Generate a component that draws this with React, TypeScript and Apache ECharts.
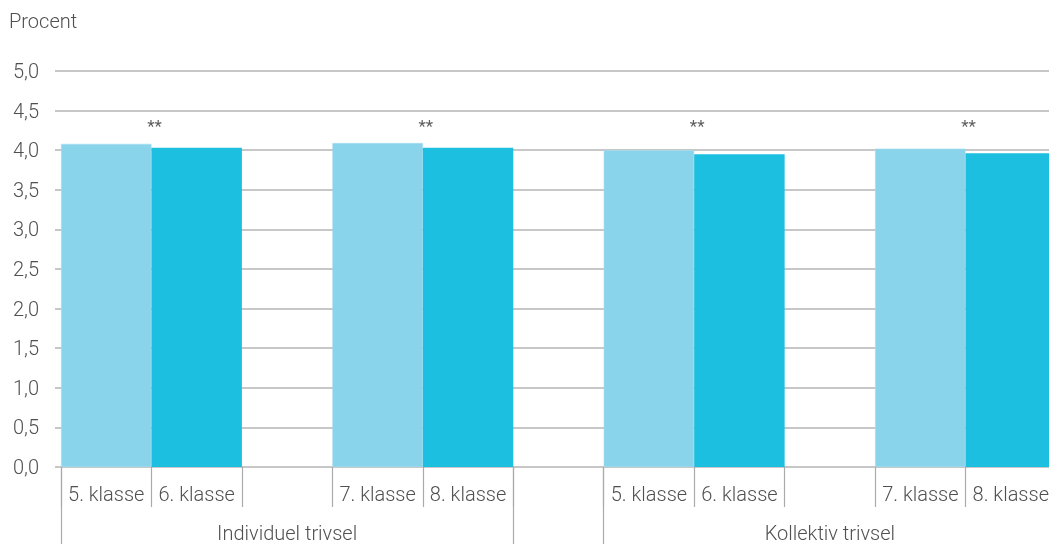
import React, { useEffect, useRef } from "react";
import * as echarts from "echarts";

const slotLabels = [
  "5. klasse", "6. klasse", "",
  "7. klasse", "8. klasse", "",
  "5. klasse", "6. klasse", "",
  "7. klasse", "8. klasse",
];
const groupLabels = ["", "", "Individuel trivsel", "", "", "", "", "", "Kollektiv trivsel", "", ""];
const groupBoundaryTicks = [0, 5, 6];
const lightValues = [4.08, 4.09, 4.0, 4.02];
const darkValues = [4.03, 4.03, 3.95, 3.96];
const sigMarks = ["**", "**", "**", "**"];
const sigMarkLevel = 4.3;
const yTicks = { min: 0, max: 5, interval: 0.5 };

const FONT = "Roboto";
const TEXT = "#505050";
const GRID = "#b4b4b4";

export default function App() {
  const ref = useRef<HTMLDivElement>(null);
  useEffect(() => {
    if (!ref.current) return;
    const chart = echarts.init(ref.current, null, { renderer: "svg" });
    const lightSlots: (number | string)[] = slotLabels.map(() => "-");
    const darkSlots: (number | string)[] = slotLabels.map(() => "-");
    lightValues.forEach((v, i) => (lightSlots[i * 3] = v));
    darkValues.forEach((v, i) => (darkSlots[i * 3 + 1] = v));
    const sigData = sigMarks.map((m, i) => ({ value: [i * 3 + 1, sigMarkLevel], mark: m }));

    chart.setOption({
      animation: false,
      title: {
        text: "Procent",
        left: 4,
        top: 6,
        textStyle: { fontFamily: FONT, fontSize: 20, fontWeight: 300, color: TEXT },
      },
      grid: { left: 61, right: 0, top: 71, bottom: 77, containLabel: false },
      xAxis: [
        {
          type: "category",
          data: slotLabels,
          position: "bottom",
          axisLine: { show: false },
          axisTick: { show: true, length: 40, interval: 0, lineStyle: { color: "#aaaaaa", width: 1.2 } },
          axisLabel: {
            interval: 0,
            margin: 17,
            fontFamily: FONT,
            fontSize: 20,
            fontWeight: 300,
            color: TEXT,
          },
        },
        {
          type: "category",
          data: groupLabels,
          position: "bottom",
          offset: 0,
          axisLine: { show: false },
          axisTick: {
            show: true,
            length: 90,
            interval: (i: number) => groupBoundaryTicks.indexOf(i) >= 0,
            lineStyle: { color: "#aaaaaa", width: 1.2 },
          },
          axisLabel: {
            interval: 0,
            margin: 56,
            fontFamily: FONT,
            fontSize: 20,
            fontWeight: 300,
            color: TEXT,
          },
        },
        { type: "value", min: 0, max: slotLabels.length, show: false },
      ],
      yAxis: {
        type: "value",
        min: yTicks.min,
        max: yTicks.max,
        interval: yTicks.interval,
        axisLine: { show: false },
        axisTick: { show: true, length: 6, lineStyle: { color: GRID, width: 1.5 } },
        splitLine: { show: true, lineStyle: { color: GRID, width: 1.5 } },
        axisLabel: {
          margin: 22,
          fontFamily: FONT,
          fontSize: 20,
          fontWeight: 300,
          color: TEXT,
          formatter: (v: number) => v.toFixed(1).replace(".", ","),
        },
      },
      series: [
        {
          type: "bar",
          xAxisIndex: 0,
          data: lightSlots,
          barWidth: "100%",
          barGap: "-100%",
          itemStyle: { color: "#89d3eb", borderColor: "#a4def0", borderWidth: 0.6 },
        },
        {
          type: "bar",
          xAxisIndex: 0,
          data: darkSlots,
          barWidth: "100%",
          barGap: "-100%",
          itemStyle: { color: "#1dbfe0" },
        },
        {
          type: "scatter",
          xAxisIndex: 2,
          data: sigData,
          symbolSize: 1,
          itemStyle: { color: "rgba(0,0,0,0)" },
          label: {
            show: true,
            position: "inside",
            offset: [3, 0],
            formatter: (p: any) => p.data.mark,
            fontFamily: FONT,
            fontSize: 17,
            color: "#333333",
          },
        },
      ],
    });
    return () => chart.dispose();
  }, []);
  return (
    <div
      ref={ref}
      style={{ position: "fixed", left: 0, top: 0, width: 1056, height: 544 }}
    />
  );
}
